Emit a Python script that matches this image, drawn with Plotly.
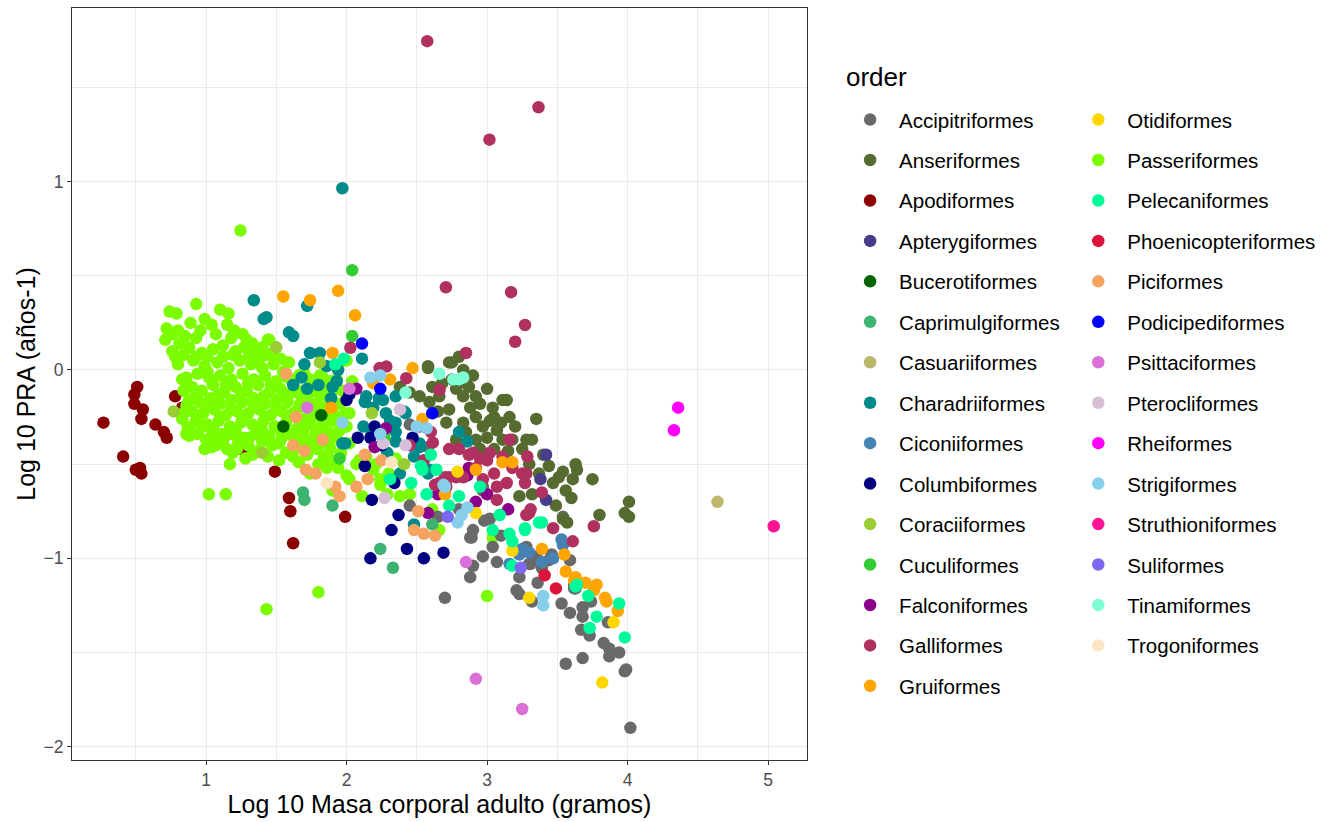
import plotly.graph_objects as go

# ---- data: (log10 adult body mass g, log10 PRA) per order ----
accipitriformes = [(2.45,-0.72),(2.65,-0.78),(2.97,-0.64),(2.90,-0.85),(2.98,-0.80),(2.88,-0.89),(3.04,-0.94),(2.97,-0.99),(3.07,-1.02),(2.90,-1.04),(2.88,-1.10),(2.70,-1.21),(3.21,-1.17),(3.30,-1.03),(3.36,-1.13),(3.32,-1.23),(3.39,-1.05),(3.54,-0.78),(3.28,-0.94),(3.46,-0.98),(3.31,-1.03),(3.53,-1.24),(3.59,-1.29),(3.62,-1.16),(3.68,-1.26),(3.74,-1.23),(3.68,-1.31),(3.67,-1.38),(3.73,-1.41),(3.83,-1.45),(3.87,-1.48),(3.94,-1.50),(3.87,-1.52),(3.56,-1.56),(3.68,-1.53),(3.99,-1.59),(3.98,-1.60),(4.02,-1.90),(3.86,-1.34),(3.23,-1.19),(3.44,-1.01),(2.80,-0.74),(3.02,-0.79),(2.89,-0.89),(3.35,-0.99),(3.23,-1.10),(3.59,-1.01),(3.63,-1.16),(2.58,-0.41),(2.97,-0.62),(2.45,-0.29),(3.62,-1.14),(3.10,-0.88)]
anseriformes = [(2.58,0.02),(2.75,0.04),(2.80,0.07),(2.38,-0.09),(2.45,-0.12),(2.52,-0.14),(2.59,-0.17),(2.66,-0.14),(2.73,-0.21),(2.83,-0.14),(2.87,-0.09),(2.95,-0.18),(3.04,-0.20),(3.11,-0.16),(2.71,-0.28),(2.83,-0.28),(2.97,-0.30),(3.07,-0.32),(2.78,-0.37),(2.92,-0.37),(3.11,-0.37),(2.68,-0.07),(2.61,-0.09),(2.73,0.04),(2.83,0.00),(2.85,-0.07),(2.92,-0.14),(3.14,-0.16),(3.16,-0.25),(3.35,-0.26),(3.18,-0.37),(3.28,-0.37),(3.32,-0.37),(2.92,-0.25),(3.02,-0.27),(3.30,-0.50),(3.44,-0.51),(3.51,-0.57),(3.63,-0.50),(3.75,-0.58),(3.61,-0.58),(3.37,-0.55),(3.54,-0.54),(3.64,-0.53),(3.47,-0.60),(3.56,-0.64),(3.60,-0.68),(3.49,-0.72),(3.57,-0.81),(3.23,-0.67),(3.32,-0.66),(3.80,-0.77),(4.01,-0.70),(3.98,-0.76),(4.01,-0.78),(3.54,-0.79),(2.58,0.01),(2.65,-0.22),(2.78,-0.10),(2.88,-0.20),(3.00,-0.10),(3.05,-0.25),(3.00,-0.36),(3.10,-0.28),(3.20,-0.30),(2.85,-0.33),(2.95,-0.42),(3.05,-0.42),(3.15,-0.43),(3.25,-0.42),(2.75,-0.05),(2.90,-0.03),(3.40,-0.45)]
apodiformes = [(0.27,-0.28),(0.51,-0.09),(0.49,-0.13),(0.49,-0.18),(0.55,-0.21),(0.54,-0.26),(0.64,-0.29),(0.70,-0.33),(0.72,-0.36),(0.78,-0.14),(0.41,-0.46),(0.50,-0.53),(0.54,-0.55),(0.53,-0.52),(1.25,-0.42),(1.49,-0.54),(1.59,-0.68),(1.60,-0.75),(1.62,-0.92),(1.99,-0.78),(0.83,-0.20),(1.29,-0.41)]
apterygiformes = [(3.42,-0.45),(3.38,-0.58),(3.42,-0.69)]
bucerotiformes = [(1.82,-0.24),(1.55,-0.30)]
caprimulgiformes = [(1.69,-0.65),(1.70,-0.69),(1.90,-0.72),(2.24,-0.95),(2.33,-1.05),(2.61,-0.82)]
casuariiformes = [(4.64,-0.70)]
charadriiformes = [(1.97,0.965),(1.34,0.37),(1.41,0.27),(1.43,0.28),(1.59,0.20),(1.62,0.18),(1.72,0.34),(1.74,0.09),(1.70,0.03),(1.68,-0.04),(1.62,-0.08),(1.81,0.09),(1.89,-0.15),(1.97,-0.39),(2.11,0.06),(2.14,-0.14),(2.23,-0.15),(2.19,-0.20),(2.28,-0.23),(2.12,-0.30),(2.35,-0.28),(2.42,-0.23),(2.80,-0.33),(2.86,-0.38),(1.99,-0.39),(2.35,-0.38),(2.18,-0.33),(2.26,-0.16),(2.13,-0.17),(2.35,-0.14),(2.41,-0.22),(2.31,-0.27),(2.35,-0.33),(2.47,-0.37),(2.48,-0.46),(2.52,-0.41),(2.29,-0.44),(2.38,-0.55),(2.59,-0.53),(1.93,-0.06),(2.58,-0.55),(2.52,-0.39),(2.48,-0.82),(1.72,-0.10),(1.80,-0.08),(1.86,0.02),(1.94,0.00),(1.90,-0.09)]
ciconiiformes = [(3.53,-0.90),(3.54,-0.93),(3.30,-0.97),(3.39,-1.02),(3.47,-1.00),(3.23,-0.98),(3.16,-1.03),(3.25,-0.95)]
columbiformes = [(2.08,-0.36),(2.17,-0.36),(2.13,-0.51),(2.34,-0.60),(2.18,-0.69),(2.37,-0.77),(2.32,-0.85),(2.43,-0.95),(2.17,-1.00),(2.55,-1.00),(2.69,-0.97),(2.02,-0.13),(2.20,-0.30),(2.47,-0.36),(2.00,-0.16),(2.25,-0.40)]
coraciiformes = [(1.50,0.12),(0.77,-0.22),(1.81,0.04),(1.40,-0.44),(2.18,-0.23),(2.41,-0.50)]
cuculiformes = [(2.04,0.53),(2.04,0.18),(1.95,-0.47),(2.27,-0.36)]
falconiformes = [(2.58,-0.76),(2.86,-0.56),(3.00,-0.66),(3.15,-0.74),(2.92,-0.70),(2.20,-0.41),(2.28,-0.31),(2.07,-0.10),(2.87,-0.52),(2.65,-0.66)]
galliformes = [(2.574,1.746),(3.366,1.395),(3.017,1.223),(2.707,0.439),(3.171,0.413),(3.27,0.239),(3.20,0.150),(2.85,0.09),(2.235,0.01),(2.283,0.018),(2.027,0.118),(2.425,-0.044),(2.662,-0.106),(2.614,-0.386),(3.287,-0.46),(3.25,-0.55),(3.27,-0.60),(3.39,-0.65),(3.31,-0.74),(3.28,-0.77),(3.47,-0.84),(3.61,-0.91),(3.76,-0.83),(3.16,-0.37),(2.80,-0.42),(2.87,-0.45),(2.95,-0.47),(3.02,-0.44),(2.73,-0.57),(3.07,-0.62),(3.14,-0.60),(3.28,-0.55),(2.71,-0.62),(2.63,-0.61),(3.07,-0.69),(3.30,-0.76),(2.78,-0.57),(2.70,-0.57),(2.66,-0.60),(2.83,-0.57),(2.73,-0.42),(2.90,-0.44),(3.00,-0.48),(3.11,-0.46),(2.45,-0.40),(2.55,-0.48),(2.92,-0.52),(3.05,-0.55),(3.18,-0.52),(2.97,-0.58),(2.60,-0.33),(2.52,-0.30)]
gruiformes = [(1.55,0.39),(1.74,0.37),(1.94,0.42),(2.06,0.29),(1.90,0.09),(2.47,0.01),(2.31,-0.05),(2.19,-0.07),(1.89,-0.20),(2.54,-0.26),(3.11,-0.49),(2.92,-0.53),(3.39,-0.95),(3.55,-0.98),(3.56,-1.07),(3.63,-1.10),(3.62,-1.12),(3.70,-1.13),(3.78,-1.14),(3.76,-1.17),(3.84,-1.21),(3.85,-1.23),(3.93,-1.28),(3.18,-0.49),(2.70,-0.66)]
otidiformes = [(3.82,-1.66),(3.90,-1.34),(3.30,-1.21),(2.79,-0.54),(2.92,-0.76),(3.18,-0.96)]
passeriformes = [
    (1.245,0.740),(1.43,-1.27),(1.80,-1.18),(3.00,-1.20),(1.02,-0.66),(1.14,-0.66),(1.17,-0.50),(0.99,-0.42),(1.04,-0.41),(1.22,-0.42),(0.88,-0.35),(2.66,-0.85),(2.61,-0.74),(3.04,-0.89),
    (0.74,0.31),(0.79,0.30),(0.93,0.35),(1.10,0.32),(1.16,0.30),(0.72,0.22),(0.99,0.27),(1.04,0.24),(0.71,0.16),(0.93,0.17),(1.20,0.21),(1.29,0.16),(1.44,0.16),(0.81,0.14),(1.12,0.13),(1.36,0.11),(1.58,0.04),(1.83,-0.04),(1.93,-0.05),(1.97,-0.11),(0.86,-0.04),(0.84,-0.11),(0.87,-0.30),(0.83,-0.26),(0.98,-0.30),(1.11,-0.34),(1.01,-0.41),(1.22,-0.41),(1.31,-0.36),(1.40,-0.32),(1.54,-0.36),(1.64,-0.41),(1.79,-0.42),(1.88,-0.41),(2.02,-0.11),(1.79,-0.18),(1.90,-0.27),(1.83,-0.28),
    (1.74,-0.55),(1.86,-0.52),(2.00,-0.56),(2.02,-0.58),(2.11,-0.67),(2.24,-0.61),(2.29,-0.66),(2.38,-0.67),(2.45,-0.66),(1.90,-0.64),(1.68,-0.38),(1.80,-0.39),(1.88,-0.42),(2.02,-0.39),(2.21,-0.50),(2.07,-0.50),(1.90,-0.17),(2.02,-0.23),(1.95,-0.32),(2.09,-0.48),(2.19,-0.53),(2.24,-0.58),(1.98,0.05),(2.00,0.05),(1.81,-0.03),(1.74,-0.05),(1.69,-0.11),(1.86,-0.14),(1.67,-0.18),(1.76,-0.21),(1.92,-0.25),(2.04,-0.06),(1.59,0.04),(1.45,0.16),(0.83,-0.05),(0.84,-0.23),(0.86,-0.34),(1.13,-0.36),
    (0.89,0.25),(1.15,0.24),(1.26,0.19),(0.80,0.21),
    (0.76,0.10),(0.88,0.12),(0.97,0.09),(1.05,0.11),(1.19,0.08),(1.27,0.12),(1.43,0.08),(1.53,0.06),
    (0.80,0.03),(0.91,0.05),(0.99,0.02),(1.08,0.04),(1.16,0.01),(1.24,0.05),(1.32,0.03),(1.40,0.01),(1.48,0.03),(1.55,-0.01),
    (0.94,-0.02),(1.02,-0.04),(1.10,-0.03),(1.18,-0.05),(1.26,-0.02),(1.34,-0.05),(1.42,-0.03),(1.50,-0.06),(1.58,-0.04),(1.66,-0.03),(1.75,-0.07),(1.88,-0.06),
    (0.90,-0.09),(0.97,-0.11),(1.05,-0.08),(1.13,-0.12),(1.21,-0.09),(1.29,-0.11),(1.37,-0.08),(1.45,-0.12),(1.53,-0.10),(1.61,-0.12),(1.77,-0.11),(1.84,-0.09),(1.93,-0.10),
    (0.88,-0.16),(0.95,-0.17),(1.03,-0.15),(1.10,-0.18),(1.18,-0.16),(1.26,-0.17),(1.34,-0.15),(1.42,-0.18),(1.50,-0.16),(1.58,-0.17),(1.72,-0.15),(1.84,-0.20),(1.96,-0.18),
    (0.90,-0.22),(0.98,-0.23),(1.06,-0.21),(1.14,-0.24),(1.22,-0.22),(1.30,-0.23),(1.38,-0.21),(1.46,-0.24),(1.54,-0.22),(1.62,-0.23),(1.70,-0.26),(1.77,-0.24),(1.98,-0.24),
    (0.93,-0.27),(1.01,-0.29),(1.09,-0.27),(1.17,-0.30),(1.25,-0.28),(1.33,-0.29),(1.41,-0.27),(1.49,-0.30),(1.57,-0.28),(1.65,-0.31),(1.73,-0.29),(1.87,-0.33),(2.00,-0.30),
    (0.94,-0.34),(1.04,-0.35),(1.19,-0.34),(1.27,-0.36),(1.35,-0.34),(1.45,-0.35),(1.60,-0.34),(1.70,-0.36),(1.78,-0.34),(1.93,-0.36),
    (1.07,-0.40),(1.15,-0.42),(1.30,-0.40),(1.37,-0.43),(1.47,-0.40),(1.57,-0.44),(1.72,-0.45),(1.84,-0.46),(1.96,-0.44),
    (1.28,-0.47),(1.44,-0.46),(1.52,-0.48),(1.66,-0.49),(1.80,-0.50),(1.94,-0.52),(2.14,-0.46),(2.30,-0.55),(2.35,-0.47),
    (0.76,0.19),(0.85,0.18),(0.96,0.21),(1.07,0.19),(1.18,0.17),(1.33,0.14),(1.40,0.12),
    (0.78,0.07),(0.84,0.08),(0.93,0.07),(1.01,0.07),(1.12,0.07),(1.21,0.10),(1.31,0.08),(1.38,0.06),(1.47,0.09),
    (0.86,-0.07),(1.01,-0.01),(1.14,-0.08),(1.30,-0.07),(1.46,-0.08),(1.62,-0.07),(1.70,-0.02),
    (0.93,-0.13),(1.09,-0.13),(1.25,-0.13),(1.41,-0.14),(1.57,-0.13),(1.67,-0.13),(1.81,-0.13),(1.89,-0.12),
    (0.86,-0.19),(1.02,-0.19),(1.18,-0.20),(1.34,-0.19),(1.50,-0.20),(1.66,-0.20),(1.90,-0.21),
    (0.94,-0.25),(1.10,-0.25),(1.26,-0.25),(1.42,-0.25),(1.58,-0.25),(1.74,-0.27),(1.85,-0.25),
    (0.89,-0.32),(1.05,-0.31),(1.21,-0.32),(1.37,-0.31),(1.53,-0.32),(1.69,-0.32),(1.81,-0.31),(1.96,-0.29),
    (1.00,-0.37),(1.11,-0.38),(1.23,-0.38),(1.40,-0.38),(1.52,-0.39),(1.63,-0.37),(1.75,-0.39),(1.86,-0.37),
    (1.19,-0.44),(1.33,-0.45),(1.62,-0.46),(1.90,-0.48)]
pelecaniformes = [(3.37,-0.81),(3.27,-0.85),(3.94,-1.24),(3.78,-1.31),(3.73,-1.37),(3.98,-1.42),(3.72,-1.20),(3.64,-1.14),(2.54,-0.53),(2.80,-0.67),(2.73,-0.72),(3.09,-0.77),(3.04,-0.85),(3.16,-0.87),(3.18,-0.91),(3.27,-0.84),(3.39,-0.81),(3.18,-1.04),(2.31,-0.58),(2.46,-0.60),(3.63,-1.15),(2.53,-0.51),(2.64,-0.53),(2.57,-0.66),(1.92,0.03),(1.98,0.06),(2.95,-0.62),(2.60,-0.45)]
phoenicopteriformes = [(3.41,-1.09),(3.49,-1.16)]
piciformes = [(1.70,-0.43),(1.71,-0.53),(1.95,-0.67),(2.48,-0.85),(2.55,-0.87),(2.63,-0.88),(2.51,-0.75),(2.13,-0.45),(1.57,-0.02),(1.64,-0.25),(1.83,-0.37),(1.92,-0.62),(1.78,-0.55),(2.25,-0.48),(2.15,-0.58),(1.62,-0.40),(2.07,-0.62)]
podicipediformes = [(2.11,0.14),(2.24,-0.10),(2.61,-0.23)]
psittaciformes = [(2.85,-1.02),(3.25,-1.80),(2.92,-1.64),(1.72,-0.20),(2.02,-0.10)]
pterocliformes = [(2.38,-0.21),(2.42,-0.40),(2.26,-0.39),(2.27,-0.68)]
rheiformes = [(4.36,-0.20),(4.33,-0.32)]
strigiformes = [(2.70,-0.62),(2.79,-0.81),(2.86,-0.73),(3.40,-1.20),(3.40,-1.25),(2.50,-0.30),(2.57,-0.31),(2.69,-0.61),(2.24,-0.03),(2.17,-0.04),(2.24,-0.34),(1.97,-0.28),(2.82,-0.77)]
struthioniformes = [(5.04,-0.83)]
suliformes = [(2.72,-0.78),(3.24,-1.05)]
tinamiformes = [(2.76,-0.05),(2.83,-0.04),(2.42,-0.12),(2.80,-0.05),(2.66,-0.02)]
trogoniformes = [(1.86,-0.60),(2.32,-0.49)]

order_names = ["Accipitriformes","Anseriformes","Apodiformes","Apterygiformes","Bucerotiformes",
               "Caprimulgiformes","Casuariiformes","Charadriiformes","Ciconiiformes","Columbiformes",
               "Coraciiformes","Cuculiformes","Falconiformes","Galliformes","Gruiformes",
               "Otidiformes","Passeriformes","Pelecaniformes","Phoenicopteriformes","Piciformes",
               "Podicipediformes","Psittaciformes","Pterocliformes","Rheiformes","Strigiformes",
               "Struthioniformes","Suliformes","Tinamiformes","Trogoniformes"]
order_points = [accipitriformes, anseriformes, apodiformes, apterygiformes, bucerotiformes,
                caprimulgiformes, casuariiformes, charadriiformes, ciconiiformes, columbiformes,
                coraciiformes, cuculiformes, falconiformes, galliformes, gruiformes,
                otidiformes, passeriformes, pelecaniformes, phoenicopteriformes, piciformes,
                podicipediformes, psittaciformes, pterocliformes, rheiformes, strigiformes,
                struthioniformes, suliformes, tinamiformes, trogoniformes]
order_colors = ["#696969","#556B2F","#8B0000","#483D8B","#006400",
                "#3CB371","#BDB76B","#008B8B","#4682B4","#000080",
                "#9ACD32","#32CD32","#8B008B","#B03060","#FFA500",
                "#FFD700","#7CFC00","#00FA9A","#DC143C","#F4A460",
                "#0000FF","#DA70D6","#D8BFD8","#FF00FF","#87CEEB",
                "#FF1493","#7B68EE","#7FFFD4","#FFE4C4"]

FONT = "Liberation Sans, Arial, Helvetica, sans-serif"

# drawing order: Apodiformes, Passeriformes first, then the rest
draw_idx = [2, 16] + [i for i in range(len(order_names)) if i not in (2, 16)]

fig = go.Figure()
for i in draw_idx:
    pts = order_points[i]
    fig.add_trace(go.Scatter(
        x=[p[0] for p in pts], y=[p[1] for p in pts],
        mode="markers", name=order_names[i],
        marker=dict(color=order_colors[i], size=12.5, line=dict(width=0)),
        legendgroup=order_names[i], legendrank=i + 1,
        legend="legend" if i < 15 else "legend2",
    ))

axis_common = dict(
    showline=True, mirror=True, linecolor="#333333", linewidth=1,
    ticks="outside", ticklen=4, tickcolor="#333333", tickwidth=1,
    gridcolor="#EBEBEB", gridwidth=1.1, zeroline=False,
    tickfont=dict(family=FONT, size=17.5, color="#4D4D4D"),
)
fig.update_xaxes(range=[0.046, 5.277], tick0=0, dtick=1,
                 minor=dict(dtick=0.5, tick0=0, showgrid=True, gridcolor="#EBEBEB", gridwidth=0.55, ticks=""),
                 title=dict(text="Log 10 Masa corporal adulto (gramos)", font=dict(family=FONT, size=25, color="black"), standoff=6),
                 **axis_common)
fig.update_yaxes(range=[-2.071, 1.922], tick0=0, dtick=1,
                 minor=dict(dtick=0.5, tick0=0, showgrid=True, gridcolor="#EBEBEB", gridwidth=0.55, ticks=""),
                 title=dict(text="Log 10 PRA (años-1)", font=dict(family=FONT, size=25, color="black"), standoff=0),
                 **axis_common)

legend_common = dict(font=dict(family=FONT, size=20.5, color="black"), tracegroupgap=10.8,
                     bgcolor="rgba(0,0,0,0)", xanchor="left", yanchor="top", itemwidth=48)
fig.update_layout(
    width=1328, height=822,
    margin=dict(l=72, r=520, t=8, b=62),
    plot_bgcolor="white", paper_bgcolor="white",
    font=dict(family=FONT),
    legend=dict(x=1.045, y=0.878, **legend_common),
    legend2=dict(x=1.355, y=0.878, **legend_common),
    annotations=[dict(text="order", xref="paper", yref="paper", x=(845 - 72) / 736, y=(760 - 77) / 752,
                      xanchor="left", yanchor="middle", showarrow=False,
                      font=dict(family=FONT, size=26, color="black"))],
)

fig.write_html("out.html", config={"displayModeBar": False},
               post_script="document.body.style.margin='0';")
